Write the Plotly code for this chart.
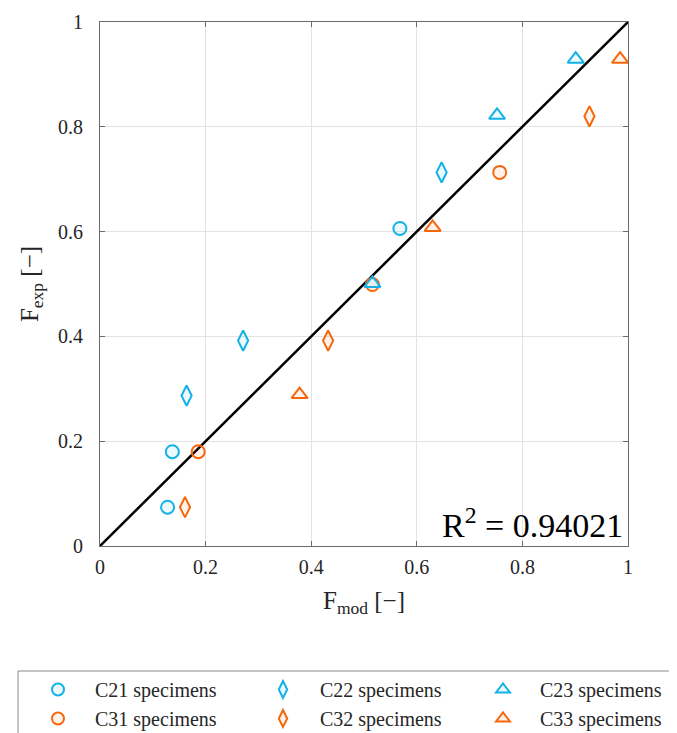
import plotly.graph_objects as go

# Data
c21_x = [0.128, 0.137, 0.568]
c21_y = [0.074, 0.180, 0.606]
c22_x = [0.164, 0.271, 0.647]
c22_y = [0.287, 0.392, 0.713]
c23_x = [0.516, 0.752, 0.901]
c23_y = [0.501, 0.822, 0.929]
c31_x = [0.186, 0.516, 0.757]
c31_y = [0.180, 0.499, 0.713]
c32_x = [0.161, 0.432, 0.927]
c32_y = [0.074, 0.392, 0.820]
c33_x = [0.378, 0.630, 0.985]
c33_y = [0.289, 0.608, 0.929]
r2_value = "0.94021"

CYAN = "#12B2E8"
ORANGE = "#F7670A"
CYAN_FILL = "rgba(18,178,232,0.08)"
ORANGE_FILL = "rgba(247,103,10,0.08)"
FONT = "Liberation Serif"
TXT = "#262626"

# page renders with an 8px body margin -> work in figure coordinates
OFF = 8
W, H = 677, 733
L, T = 100 - OFF, 22 - OFF
R, B = 49 + OFF, 187 + OFF
PW, PH = W - L - R, H - T - B


def px_x(px):  # screen px -> paper
    return (px - OFF - L) / PW


def px_y(py):
    return (H - B - (py - OFF)) / PH


series = [
    ("C21 specimens", c21_x, c21_y, "circle", CYAN, CYAN_FILL, 13, "legend"),
    ("C31 specimens", c31_x, c31_y, "circle", ORANGE, ORANGE_FILL, 13, "legend"),
    ("C22 specimens", c22_x, c22_y, "diamond-tall", CYAN, CYAN_FILL, 14.5, "legend2"),
    ("C32 specimens", c32_x, c32_y, "diamond-tall", ORANGE, ORANGE_FILL, 14.5, "legend2"),
    ("C23 specimens", c23_x, c23_y, "triangle-up", CYAN, CYAN_FILL, 14, "legend3"),
    ("C33 specimens", c33_x, c33_y, "triangle-up", ORANGE, ORANGE_FILL, 14, "legend3"),
]

fig = go.Figure()

fig.add_trace(go.Scatter(x=[0, 1], y=[0, 1], mode="lines",
                         line=dict(color="black", width=2.5),
                         showlegend=False, hoverinfo="skip"))

for name, xs, ys, sym, col, fill, sz, lg in series:
    fig.add_trace(go.Scatter(
        x=xs, y=ys, mode="markers", name=name, legend=lg, legendgroup=name,
        marker=dict(symbol=sym, size=sz, color=fill,
                    line=dict(color=col, width=2)),
    ))

axis_common = dict(
    range=[0, 1], showgrid=True, gridcolor="#E3E3E3", gridwidth=1,
    zeroline=False, showline=True, linecolor="#6B6B6B", linewidth=1,
    mirror="ticks", ticks="inside", ticklen=5, tickcolor="#6B6B6B",
    tickfont=dict(family=FONT, size=20, color=TXT),
    tickvals=[0, 0.2, 0.4, 0.6, 0.8, 1],
    ticktext=["0", "0.2", "0.4", "0.6", "0.8", "1"],
)

fig.update_xaxes(**axis_common, ticklabelstandoff=3,
                 title=dict(text="F<sub>mod</sub> [−]",
                            font=dict(family=FONT, size=25, color=TXT),
                            standoff=14))
fig.update_yaxes(**axis_common, ticklabelstandoff=12,
                 title=dict(text="F<sub>exp</sub> [−]",
                            font=dict(family=FONT, size=25, color=TXT),
                            standoff=12))

fig.add_annotation(x=1, y=0, xref="x", yref="y", xanchor="right", yanchor="bottom",
                   xshift=-3, yshift=0, showarrow=False,
                   text="R<sup>2</sup> = " + r2_value,
                   font=dict(family=FONT, size=34, color="black"))

# legend frame (runs off the right and bottom edges like the reference)
fig.add_shape(type="rect", xref="paper", yref="paper",
              x0=px_x(18), x1=px_x(760), y0=px_y(800), y1=px_y(671),
              line=dict(color="#8A8A8A", width=1), fillcolor="rgba(0,0,0,0)")

leg_common = dict(orientation="v", yanchor="top", xanchor="left",
                  bgcolor="rgba(0,0,0,0)", borderwidth=0, itemwidth=64,
                  font=dict(family=FONT, size=20, color=TXT),
                  tracegroupgap=0, itemsizing="constant")
leg_top = px_y(670)

fig.update_layout(
    width=W, height=H,
    margin=dict(l=L, r=R, t=T, b=B, autoexpand=False),
    plot_bgcolor="white", paper_bgcolor="white",
    showlegend=True,
    legend=dict(x=px_x(21), y=leg_top, **leg_common),
    legend2=dict(x=px_x(246), y=leg_top, **leg_common),
    legend3=dict(x=px_x(466), y=leg_top, **leg_common),
)

fig.write_html("out.html")
